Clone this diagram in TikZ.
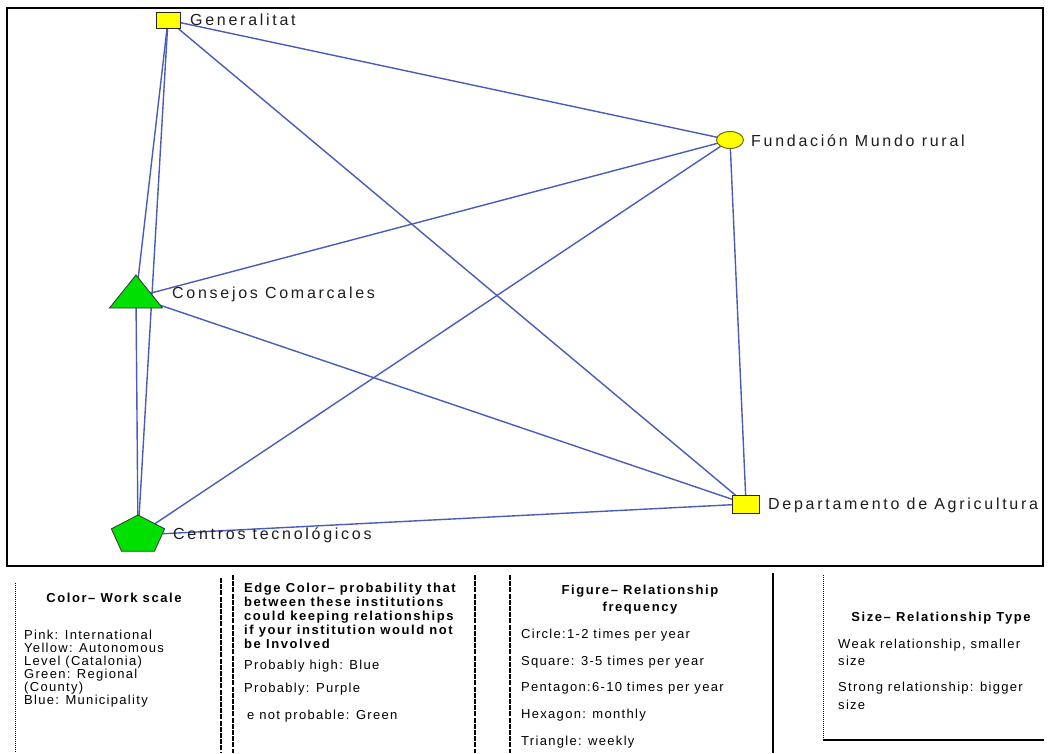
\documentclass[tikz,border=0pt]{standalone}
\usepackage{fontspec}
\setmainfont{Liberation Sans}
\newfontfamily\lblfont[LetterSpace=17]{Liberation Sans}
\newfontfamily\legfont[LetterSpace=10]{Liberation Sans}
\newfontfamily\legbfont[LetterSpace=12]{Liberation Sans}
\usetikzlibrary{shapes.geometric,backgrounds}
\definecolor{edgeblue}{RGB}{74,92,186}
\definecolor{nodeyellow}{RGB}{255,255,0}
\definecolor{nodegreen}{RGB}{0,224,0}
\definecolor{txtdark}{RGB}{30,30,30}
\begin{document}
\begin{tikzpicture}[x=1pt,y=-1pt,
  edge/.style={draw=edgeblue, line width=1.4pt},
  sqnode/.style={rectangle, draw=black!85, fill=nodeyellow, line width=1pt, inner sep=0pt},
  cirnode/.style={ellipse, draw={rgb,255:red,110;green,110;blue,0}, fill=nodeyellow, line width=1pt, inner sep=0pt, minimum width=27pt, minimum height=17pt},
  trinode/.style={regular polygon, regular polygon sides=3, draw=black!80, fill=nodegreen, line width=0.8pt, inner sep=0pt, minimum size=44pt, xscale=1.39, transform shape},
  pentnode/.style={regular polygon, regular polygon sides=5, draw=black!80, fill=nodegreen, line width=0.8pt, inner sep=0pt, minimum size=40pt, xscale=1.4, transform shape},
  lbl/.style={font=\lblfont\fontsize{16}{18}\selectfont, text=txtdark, inner sep=0pt, anchor=base west},
  leg/.style={font=\legfont\fontsize{13}{14}\selectfont, inner sep=0pt, anchor=base west},
  legb/.style={font=\legbfont\bfseries\fontsize{13}{14}\selectfont, inner sep=0pt, anchor=base west},
  legbc/.style={font=\legbfont\bfseries\fontsize{13}{14}\selectfont, inner sep=0pt, anchor=base},
  sepdash/.style={line width=1.7pt, dash pattern=on 5pt off 1.2pt},
  sepdot/.style={line width=0.9pt, dash pattern=on 1pt off 1pt},
  sepsolid/.style={line width=1.7pt}
]
\useasboundingbox (0,0) rectangle (1048,753);
% nodes
\node[sqnode, minimum width=24pt, minimum height=16pt] (gen) at (168,20) {};
\node[cirnode] (fund) at (730,140) {};
\begin{scope}[shift={(136,297)}]
\node[trinode] (cons) at (0,0) {};
\end{scope}
\begin{scope}[shift={(138,535)}]
\node[pentnode] (cent) at (0,0) {};
\end{scope}
\node[sqnode, minimum width=27pt, minimum height=18pt] (dep) at (746,504) {};
% labels
\node[lbl] (genl) at (190,25) {Generalitat};
\node[lbl] (fundl) at (751,146) {Fundación Mundo rural};
\node[lbl] (consl) at (172,298) {Consejos Comarcales};
\node[lbl] (centl) at (173,539) {Centros tecnológicos};
\node[lbl] (depl) at (768,509) {Departamento de Agricultura};
% edges and background
\begin{scope}[on background layer]
\fill[white] (0,0) rectangle (1048,753);
\draw[edge] (gen.center) -- (cons.center);
\draw[edge] (gen.center) -- (cent.center);
\draw[edge] (gen.center) -- (fund.center);
\draw[edge] (gen.center) -- (dep.center);
\draw[edge] (cons.center) -- (cent.center);
\draw[edge] (cons.center) -- (fund.center);
\draw[edge] (cons.center) -- (dep.center);
\draw[edge] (cent.center) -- (fund.center);
\draw[edge] (cent.center) -- (dep.center);
\draw[edge] (fund.center) -- (dep.center);
\end{scope}
% frame
\draw[line width=1.5pt] (7,8) rectangle (1043,566);
% legend separators
\coordinate (b1a) at (15,583); \coordinate (b1b) at (15,753);
\coordinate (b1c) at (221,578); \coordinate (b1d) at (221,753);
\coordinate (b2a) at (233,575); \coordinate (b2b) at (233,753);
\coordinate (b2c) at (475,575); \coordinate (b2d) at (475,753);
\coordinate (b3a) at (510,575); \coordinate (b3b) at (510,753);
\coordinate (b3c) at (773,573); \coordinate (b3d) at (773,753);
\coordinate (b4a) at (823,575); \coordinate (b4b) at (823,740); \coordinate (b4c) at (1044,740);
\draw[sepdot] (b1a) -- (b1b);
\draw[sepdash] (b1c) -- (b1d);
\draw[sepdash] (b2a) -- (b2b);
\draw[sepdash] (b2c) -- (b2d);
\draw[sepdash] (b3a) -- (b3b);
\draw[sepsolid] (b3c) -- (b3d);
\draw[sepdot] (b4a) -- (b4b);
\draw[sepsolid] (b4b) -- (b4c);
% legend box 1
\node[legbc] (t1) at (114,602) {Color– Work scale};
\node[leg] (t1a) at (24,639) {Pink: International};
\node[leg] (t1b) at (24,652) {Yellow: Autonomous};
\node[leg] (t1c) at (24,665) {Level (Catalonia)};
\node[leg] (t1d) at (24,678) {Green: Regional};
\node[leg] (t1e) at (24,691) {(County)};
\node[leg] (t1f) at (24,704) {Blue: Municipality};
% legend box 2
\node[legb] (t2a) at (244,592) {Edge Color– probability that};
\node[legb] (t2b) at (244,606) {between  these institutions};
\node[legb] (t2c) at (244,620) {could keeping relationships};
\node[legb] (t2d) at (244,634) {if your institution would not};
\node[legb] (t2e) at (244,648) {be Involved};
\node[leg] (t2f) at (244,669) {Probably high: Blue};
\node[leg] (t2g) at (244,692) {Probably: Purple};
\node[leg] (t2h) at (247,719) {e not probable: Green};
% legend box 3
\node[legbc] (t3a) at (640,594) {Figure– Relationship};
\node[legbc] (t3b) at (640,611) {frequency};
\node[leg] (t3c) at (521,638) {Circle:1-2 times per year};
\node[leg] (t3d) at (521,665) {Square: 3-5 times per year};
\node[leg] (t3e) at (521,691) {Pentagon:6-10 times per year};
\node[leg] (t3f) at (521,718) {Hexagon: monthly};
\node[leg] (t3g) at (521,745) {Triangle: weekly};
% legend box 4
\node[legbc] (t4a) at (941,621) {Size– Relationship Type};
\node[leg] (t4b) at (838,648) {Weak relationship, smaller};
\node[leg] (t4c) at (838,665) {size};
\node[leg] (t4d) at (838,691) {Strong relationship: bigger};
\node[leg] (t4e) at (838,709) {size};
\end{tikzpicture}
\end{document}
